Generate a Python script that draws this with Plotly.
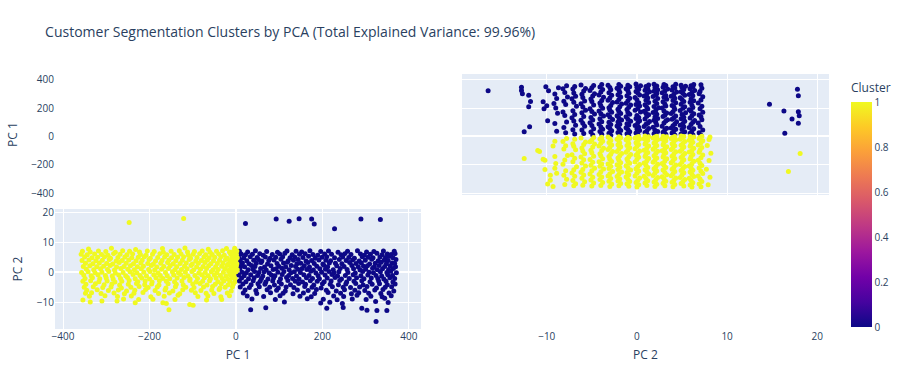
import plotly.graph_objects as go

title_text = "Customer Segmentation Clusters by PCA (Total Explained Variance: 99.96%)"
dim_labels = ["PC 1", "PC 2"]

# Cluster 0 points: (PC 1, PC 2)
cluster0_points = [
    (8,7.1),(27,6.9),(45,7.3),(71,7.0),(96,6.8),(118,7.2),(139,7.1),(152,6.9),(171,7.3),(196,7.0),(214,7.2),(236,6.8),(258,7.1),(281,7.3),(302,6.9),(319,7.0),(341,7.2),(366,7.1),
    (12,6.2),(22,5.9),(38,6.1),(55,6.3),(63,5.8),(84,6.0),(101,6.2),(113,6.4),(130,5.9),(147,6.1),(160,6.3),(178,6.0),(189,5.8),(205,6.2),(221,6.1),(243,5.9),(252,6.3),(266,6.0),(288,6.2),(297,5.8),(311,6.1),(326,6.4),(338,5.9),(350,6.2),(359,6.0),(368,6.3),
    (6,5.1),(18,4.9),(33,5.3),(49,5.0),(68,5.2),(79,4.8),(92,5.1),(108,5.3),(125,4.9),(136,5.2),(155,5.0),(168,5.4),(183,4.8),(199,5.1),(210,5.3),(228,4.9),(247,5.2),(261,5.0),(274,4.8),(292,5.3),(306,5.1),(317,4.9),(333,5.2),(346,5.0),(355,5.4),(363,4.9),
    (10,4.2),(25,3.9),(41,4.1),(52,4.3),(60,3.8),(76,4.0),(88,4.2),(104,4.4),(121,3.9),(133,4.1),(144,4.3),(162,3.8),(175,4.0),(192,4.2),(208,4.1),(219,3.9),(239,4.3),(255,4.0),(270,4.2),(285,3.8),(299,4.1),(314,4.4),(329,3.9),(343,4.2),(352,4.0),(370,4.3),
    (7,3.0),(15,3.2),(30,2.9),(47,3.1),(58,3.3),(73,2.8),(95,3.0),(110,3.2),(119,3.4),(141,2.9),(150,3.1),(166,3.3),(181,3.0),(201,2.8),(216,3.2),(230,3.1),(245,2.9),(263,3.3),(278,3.0),(290,3.2),(309,2.8),(322,3.1),(336,3.4),(348,2.9),(361,3.2),(367,3.0),
    (11,2.1),(20,1.9),(36,2.3),(44,2.0),(66,1.8),(81,2.2),(99,2.1),(115,1.9),(128,2.3),(138,2.0),(158,2.2),(170,1.8),(187,2.1),(203,2.4),(212,1.9),(233,2.2),(250,2.0),(268,2.3),(283,1.8),(295,2.1),(304,2.2),(320,1.9),(331,2.3),(344,2.0),(357,2.2),(369,1.9),
    (9,1.2),(28,0.9),(39,1.1),(57,1.3),(70,0.8),(86,1.0),(93,1.2),(106,1.4),(123,0.9),(143,1.1),(153,1.3),(164,1.0),(179,0.8),(194,1.2),(207,1.1),(225,0.9),(241,1.3),(257,1.0),(272,1.2),(287,0.8),(300,1.1),(316,1.4),(327,0.9),(339,1.2),(353,1.0),(364,1.3),
    (14,0.1),(24,-0.1),(43,0.3),(53,0.0),(65,0.2),(77,-0.2),(97,0.1),(111,0.3),(127,-0.1),(135,0.2),(149,0.0),(173,0.4),(185,-0.2),(198,0.1),(215,0.3),(227,-0.1),(238,0.2),(259,0.0),(276,-0.2),(293,0.3),(308,0.1),(318,-0.1),(334,0.2),(349,0.0),(358,0.4),(371,-0.1),
    (6,-0.9),(19,-1.1),(34,-0.8),(50,-1.0),(62,-1.2),(82,-0.9),(90,-1.1),(107,-0.7),(122,-1.0),(140,-1.2),(157,-0.8),(169,-1.0),(190,-1.1),(206,-0.9),(222,-0.7),(235,-1.2),(253,-1.0),(271,-0.8),(289,-1.1),(305,-0.9),(324,-1.0),(337,-1.2),(351,-0.8),(362,-1.0),
    (13,-1.9),(29,-2.1),(42,-1.8),(59,-2.0),(74,-2.2),(87,-1.9),(103,-2.1),(117,-1.7),(131,-2.0),(146,-2.2),(163,-1.8),(177,-2.0),(193,-2.1),(211,-1.9),(229,-1.7),(244,-2.2),(262,-2.0),(279,-1.8),(296,-2.1),(313,-1.9),(328,-2.0),(342,-2.2),(356,-1.8),(367,-2.0),
    (8,-2.9),(23,-3.1),(40,-2.8),(56,-3.0),(69,-3.2),(85,-2.9),(100,-3.1),(120,-2.7),(137,-3.0),(154,-3.2),(172,-2.8),(188,-3.0),(204,-3.1),(220,-2.9),(240,-2.7),(256,-3.2),(273,-3.0),(291,-2.8),(310,-3.1),(330,-2.9),(347,-3.0),(363,-3.2),
    (16,-3.9),(35,-4.1),(51,-3.8),(67,-4.0),(89,-4.2),(105,-3.9),(126,-4.1),(145,-3.7),(161,-4.0),(180,-4.2),(200,-3.8),(218,-4.0),(237,-4.1),(254,-3.9),(277,-3.7),(294,-4.2),(315,-4.0),(332,-3.8),(350,-4.1),(368,-3.9),
    (10,-4.9),(31,-5.1),(54,-4.8),(78,-5.0),(98,-5.2),(116,-4.9),(134,-5.1),(159,-4.7),(176,-5.0),(197,-5.2),(223,-4.8),(248,-5.0),(265,-5.1),(286,-4.9),(303,-4.7),(325,-5.2),(345,-5.0),(360,-4.8),
    (21,-5.9),(46,-6.1),(72,-5.8),(94,-6.0),(114,-6.2),(142,-5.9),(167,-6.1),(186,-5.7),(209,-6.0),(232,-6.2),(251,-5.8),(275,-6.0),(298,-6.1),(321,-5.9),(340,-5.7),(365,-6.2),
    (17,-6.9),(48,-7.1),(80,-6.8),(109,-7.0),(132,-7.2),(156,-6.9),(182,-7.1),(213,-6.7),(242,-7.0),(267,-7.2),(284,-6.8),(307,-7.0),(335,-7.1),(354,-6.9),
    (26,-7.9),(64,-8.1),(102,-7.8),(148,-8.0),(174,-8.2),(226,-7.9),(249,-8.1),(280,-7.7),(312,-8.0),(338,-8.2),(359,-7.8),
    (37,-8.9),(91,-9.1),(165,-8.8),(202,-9.0),(234,-9.2),(269,-8.9),(301,-9.1),(344,-8.7),
    (112,-9.9),(196,-10.3),(217,-10.0),(246,-10.4),(323,-9.8),(352,-10.1),
    (34,-12.5),(69,-11.9),(210,-12.0),(248,-11.8),(291,-12.0),(303,-12.7),(326,-12.8),(349,-12.8),(324,-16.5),
    (22,16.4),(93,17.9),(123,17.2),(146,18.0),(175,17.9),(181,16.3),(228,14.7),(289,17.9),(334,17.8),
]

# Cluster 1 points: (PC 1, PC 2)
cluster1_points = [
    (-341,7.9),(-288,8.1),(-232,7.7),(-170,8.0),(-118,8.2),(-64,7.8),(-22,8.0),(-3,8.1),
    (-355,7.1),(-337,6.9),(-318,7.2),(-301,7.0),(-279,6.8),(-262,7.3),(-246,7.1),(-223,6.9),(-205,7.2),(-189,7.0),(-168,6.8),(-150,7.1),(-131,7.3),(-112,6.9),(-96,7.0),(-78,7.2),(-60,6.8),(-45,7.1),(-31,7.3),(-15,6.9),(-6,7.0),(2,7.2),
    (-358,6.1),(-344,5.9),(-327,6.2),(-311,6.0),(-296,5.8),(-283,6.3),(-268,6.1),(-252,5.9),(-239,6.2),(-221,6.0),(-208,5.8),(-193,6.1),(-176,6.3),(-160,5.9),(-143,6.0),(-127,6.2),(-110,5.8),(-99,6.1),(-84,6.3),(-70,5.9),(-55,6.0),(-40,6.2),(-27,5.8),(-12,6.1),(-4,6.3),(1,5.9),
    (-350,5.2),(-333,4.9),(-320,5.1),(-304,5.3),(-290,4.8),(-273,5.0),(-257,5.2),(-241,4.9),(-226,5.1),(-212,5.3),(-198,4.8),(-181,5.0),(-165,5.2),(-149,4.9),(-135,5.1),(-121,5.3),(-105,4.8),(-90,5.0),(-74,5.2),(-62,4.9),(-49,5.1),(-35,5.3),(-20,4.8),(-9,5.0),(-1,5.2),(3,4.9),
    (-356,4.0),(-340,4.2),(-324,3.9),(-309,4.1),(-293,4.3),(-277,3.8),(-263,4.0),(-248,4.2),(-231,3.9),(-217,4.1),(-201,4.3),(-186,3.8),(-171,4.0),(-155,4.2),(-139,3.9),(-124,4.1),(-108,4.3),(-93,3.8),(-80,4.0),(-66,4.2),(-52,3.9),(-38,4.1),(-24,4.3),(-14,3.8),(-5,4.0),(0,4.2),
    (-348,3.1),(-331,2.9),(-316,3.2),(-299,3.0),(-285,2.8),(-270,3.3),(-254,3.1),(-237,2.9),(-220,3.2),(-204,3.0),(-191,2.8),(-174,3.1),(-158,3.3),(-145,2.9),(-129,3.0),(-115,3.2),(-101,2.8),(-87,3.1),(-72,3.3),(-58,2.9),(-43,3.0),(-30,3.2),(-18,2.8),(-8,3.1),(-2,3.3),(2,2.9),
    (-353,2.0),(-338,2.2),(-322,1.9),(-306,2.1),(-291,2.3),(-276,1.8),(-259,2.0),(-244,2.2),(-228,1.9),(-214,2.1),(-196,2.3),(-183,1.8),(-167,2.0),(-152,2.2),(-137,1.9),(-119,2.1),(-104,2.3),(-91,1.8),(-76,2.0),(-63,2.2),(-47,1.9),(-33,2.1),(-21,2.3),(-11,1.8),(-3,2.0),(1,2.2),
    (-346,1.1),(-329,0.9),(-313,1.2),(-297,1.0),(-281,0.8),(-266,1.3),(-250,1.1),(-235,0.9),(-219,1.2),(-202,1.0),(-188,0.8),(-172,1.1),(-156,1.3),(-141,0.9),(-126,1.0),(-113,1.2),(-98,0.8),(-82,1.1),(-68,1.3),(-53,0.9),(-41,1.0),(-26,1.2),(-16,0.8),(-7,1.1),(-2,1.3),(3,0.9),
    (-357,0.0),(-342,0.2),(-326,-0.1),(-310,0.1),(-294,0.3),(-279,-0.2),(-261,0.0),(-245,0.2),(-229,-0.1),(-213,0.1),(-199,0.3),(-180,-0.2),(-163,0.0),(-147,0.2),(-133,-0.1),(-117,0.1),(-102,0.3),(-86,-0.2),(-71,0.0),(-57,0.2),(-44,-0.1),(-29,0.1),(-17,0.3),(-10,-0.2),(-4,0.0),(0,0.2),
    (-352,-0.9),(-335,-1.1),(-319,-0.8),(-302,-1.0),(-286,-1.2),(-271,-0.9),(-255,-1.1),(-238,-0.7),(-222,-1.0),(-207,-1.2),(-190,-0.8),(-175,-1.0),(-159,-1.1),(-144,-0.9),(-128,-0.7),(-111,-1.2),(-95,-1.0),(-79,-0.8),(-64,-1.1),(-50,-0.9),(-36,-1.0),(-23,-1.2),(-13,-0.8),(-5,-1.0),
    (-349,-2.0),(-332,-1.8),(-315,-2.1),(-300,-1.9),(-284,-2.2),(-267,-2.0),(-251,-1.7),(-233,-2.1),(-218,-1.9),(-200,-2.2),(-185,-1.8),(-169,-2.0),(-153,-2.1),(-136,-1.9),(-120,-1.7),(-106,-2.2),(-89,-2.0),(-73,-1.8),(-59,-2.1),(-46,-1.9),(-32,-2.0),(-19,-2.2),(-9,-1.8),(-2,-2.0),
    (-354,-3.0),(-336,-2.8),(-317,-3.1),(-298,-2.9),(-280,-3.2),(-264,-3.0),(-247,-2.7),(-227,-3.1),(-210,-2.9),(-194,-3.2),(-177,-2.8),(-161,-3.0),(-142,-3.1),(-125,-2.9),(-107,-2.7),(-92,-3.2),(-77,-3.0),(-61,-2.8),(-42,-3.1),(-28,-2.9),(-14,-3.0),(-3,-3.2),
    (-347,-4.0),(-325,-3.8),(-305,-4.1),(-287,-3.9),(-269,-4.2),(-249,-4.0),(-230,-3.7),(-211,-4.1),(-195,-3.9),(-178,-4.2),(-157,-3.8),(-138,-4.0),(-122,-4.1),(-100,-3.9),(-83,-3.7),(-67,-4.2),(-48,-4.0),(-34,-3.8),(-18,-4.1),(-6,-3.9),
    (-351,-5.0),(-330,-4.8),(-308,-5.1),(-289,-4.9),(-265,-5.2),(-243,-5.0),(-224,-4.7),(-203,-5.1),(-182,-4.9),(-162,-5.2),(-140,-4.8),(-116,-5.0),(-97,-5.1),(-75,-4.9),(-54,-4.7),(-37,-5.2),(-25,-5.0),(-8,-4.8),
    (-345,-6.0),(-321,-5.8),(-295,-6.1),(-272,-5.9),(-253,-6.2),(-234,-6.0),(-209,-5.7),(-187,-6.1),(-164,-5.9),(-146,-6.2),(-123,-5.8),(-103,-6.0),(-81,-6.1),(-56,-5.9),(-39,-5.7),(-11,-6.2),
    (-348,-7.0),(-334,-6.8),(-312,-7.1),(-282,-6.9),(-258,-7.2),(-236,-7.0),(-215,-6.7),(-179,-7.1),(-154,-6.9),(-130,-7.2),(-94,-6.8),(-69,-7.0),(-51,-7.1),(-20,-6.9),
    (-339,-8.0),(-303,-7.8),(-274,-8.1),(-242,-7.9),(-197,-8.2),(-166,-8.0),(-134,-7.7),(-88,-8.1),(-65,-7.9),(-35,-8.2),(-15,-7.8),
    (-354,-9.3),(-310,-9.6),(-275,-9.6),(-260,-8.9),(-225,-9.1),(-192,-9.0),(-141,-9.1),(-68,-9.3),(-33,-9.1),
    (-337,-9.9),(-233,-10.2),(-169,-10.2),(-107,-10.8),
    (-155,-12.5),(-99,-11.0),(-161,-10.4),(-247,16.8),(-121,18.1),
]

cluster_ids = [0, 1]

pc1 = [p[0] for p in cluster0_points] + [p[0] for p in cluster1_points]
pc2 = [p[1] for p in cluster0_points] + [p[1] for p in cluster1_points]
cluster = [cluster_ids[0]] * len(cluster0_points) + [cluster_ids[1]] * len(cluster1_points)

marker = dict(color=cluster, coloraxis="coloraxis", size=5)

fig = go.Figure()
# top-right cell: x = PC 2, y = PC 1
fig.add_trace(go.Scatter(x=pc2, y=pc1, mode="markers", marker=marker,
                         xaxis="x2", yaxis="y", showlegend=False))
# bottom-left cell: x = PC 1, y = PC 2
fig.add_trace(go.Scatter(x=pc1, y=pc2, mode="markers", marker=marker,
                         xaxis="x", yaxis="y2", showlegend=False))

fig.update_layout(
    template="plotly",
    width=902, height=389,
    font=dict(size=10),
    title=dict(text=title_text),
    margin=dict(l=55, r=73, t=74, b=60),
    coloraxis=dict(
        colorscale="Plasma", cmin=0, cmax=1,
        colorbar=dict(title=dict(text="Cluster"), thickness=21,
                      xref="container", x=0.9435, xanchor="left", xpad=0,
                      yref="paper", y=0.492, yanchor="middle", ypad=0,
                      lenmode="pixels", len=247),
    ),
    xaxis=dict(domain=[0, 0.4729], anchor="y2", range=[-418.5, 428], dtick=200,
               title=dict(text=dim_labels[0], standoff=8), automargin=False),
    yaxis2=dict(domain=[0, 0.4706], anchor="x", range=[-19, 21.3], dtick=10,
                title=dict(text=dim_labels[1], standoff=11), automargin=False),
    xaxis2=dict(domain=[0.5258, 1], anchor="y2", range=[-19.4, 21.3], dtick=10,
                title=dict(text=dim_labels[1], standoff=8), automargin=False),
    yaxis=dict(domain=[0.5255, 1], anchor="x", range=[-414, 442], dtick=200,
               title=dict(text=dim_labels[0], standoff=10), automargin=False),
)

fig.write_html("out.html", config={"displayModeBar": False},
               post_script="document.body.style.margin='0';")
